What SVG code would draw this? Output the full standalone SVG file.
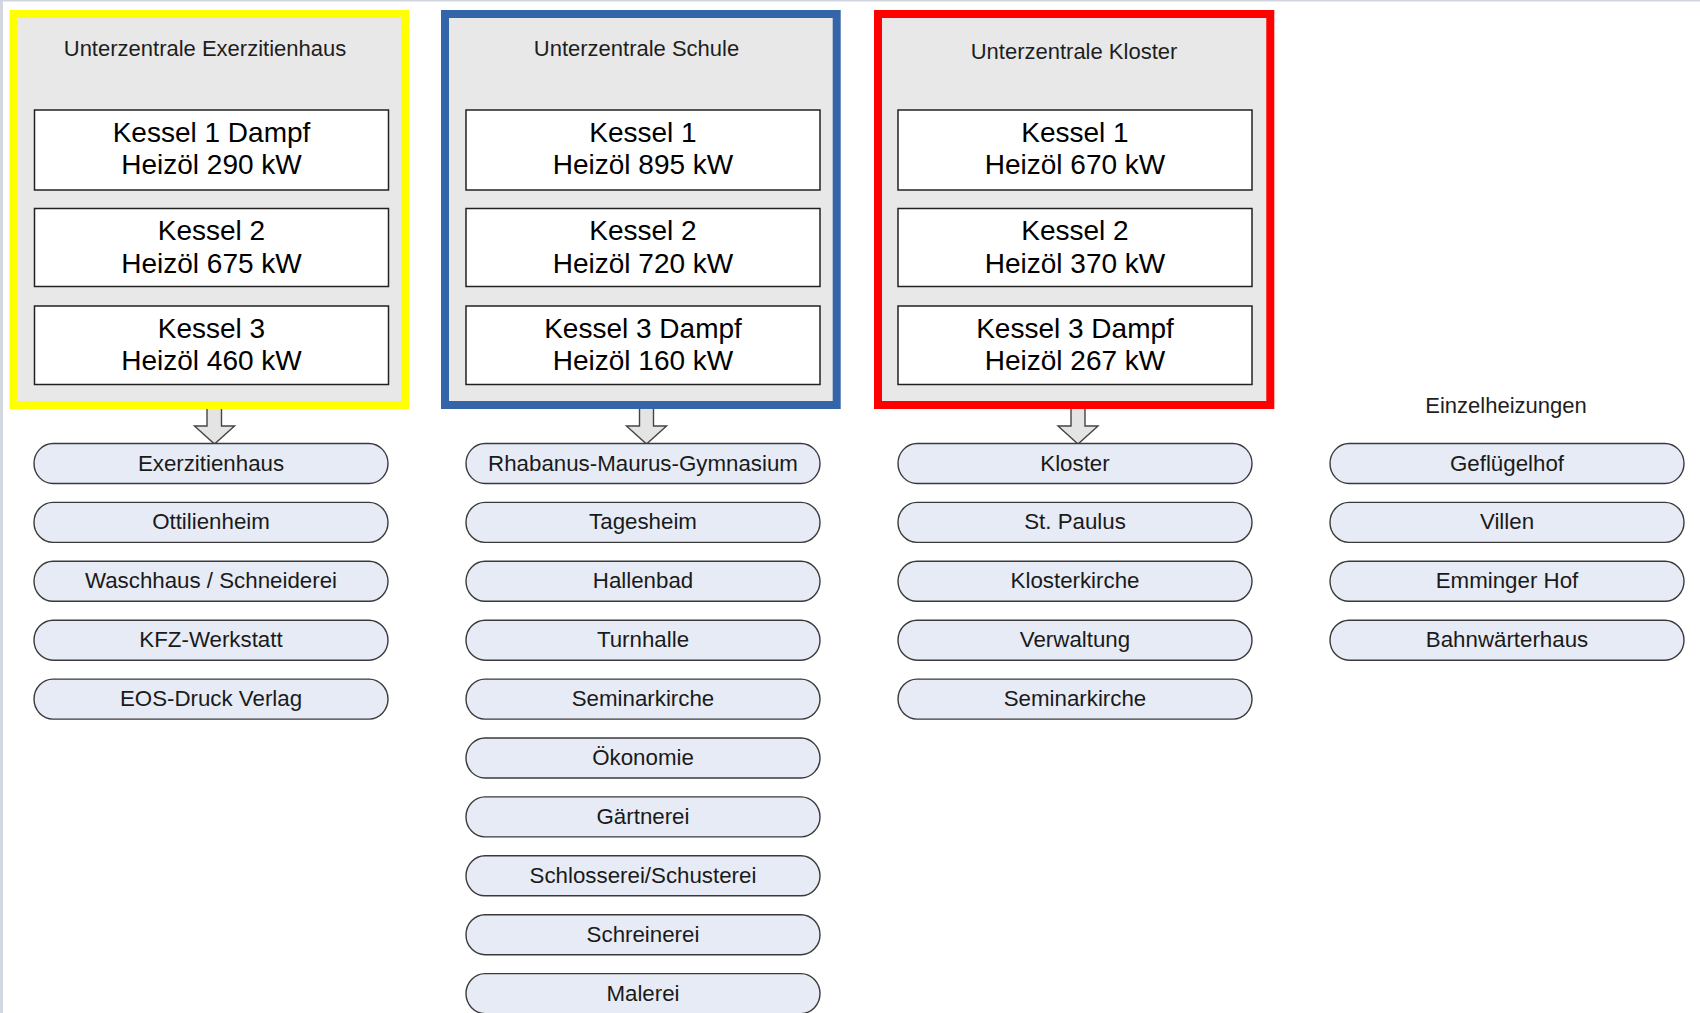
<svg xmlns="http://www.w3.org/2000/svg" width="1700" height="1013" viewBox="0 0 1700 1013">
<style>
.frame{fill:#e8e8e8;stroke-width:8}
.kessel{fill:#ffffff;stroke:#222222;stroke-width:1.5}
.pill{fill:#e6ebf5;stroke:#3a3a3a;stroke-width:1.4}
.title{font-family:"Liberation Sans",Arial,sans-serif;font-size:22px;fill:#1e1e1e;text-anchor:middle}
.ktext{font-family:"Liberation Sans",Arial,sans-serif;font-size:28px;fill:#000000;text-anchor:middle}
.ptext{font-family:"Liberation Sans",Arial,sans-serif;font-size:22.3px;fill:#1a1a1a;text-anchor:middle}
.arrow{fill:#e4e4e4;stroke:#444444;stroke-width:1.4;stroke-linejoin:miter}
</style>
<rect x="0" y="0" width="1700" height="1013" fill="#ffffff"/>
<rect x="0" y="0" width="3" height="1013" fill="#d3d7e0"/>
<rect x="0" y="0" width="1700" height="1.5" fill="#d0d4dc"/>

<g id="connectors">
<path class="arrow" d="M207,409 L207,426 L194.5,426 L214.5,444 L234.5,426 L221.5,426 L221.5,409"/>
<path class="arrow" d="M639.5,409 L639.5,426 L626.5,426 L646.5,444 L666.5,426 L653.5,426 L653.5,409"/>
<path class="arrow" d="M1071,409 L1071,426 L1058,426 L1078,444 L1098,426 L1085,426 L1085,409"/>
</g>

<g id="uz-exerzitienhaus">
<rect class="frame" x="13.5" y="14" width="391.5" height="391" stroke="#ffff00"/>
<text class="title" x="205" y="56">Unterzentrale Exerzitienhaus</text>
</g>
<g id="ex-kessel1"><rect class="kessel" x="34.5" y="110" width="354" height="80"/><text class="ktext" x="211.5" y="141.5">Kessel 1 Dampf</text><text class="ktext" x="211.5" y="174">Heizöl 290 kW</text></g>
<g id="ex-kessel2"><rect class="kessel" x="34.5" y="208.5" width="354" height="78"/><text class="ktext" x="211.5" y="240">Kessel 2</text><text class="ktext" x="211.5" y="272.5">Heizöl 675 kW</text></g>
<g id="ex-kessel3"><rect class="kessel" x="34.5" y="306" width="354" height="78.5"/><text class="ktext" x="211.5" y="337.5">Kessel 3</text><text class="ktext" x="211.5" y="370">Heizöl 460 kW</text></g>

<g id="uz-schule">
<rect class="frame" x="445" y="14" width="391.7" height="391" stroke="#3465a8"/>
<text class="title" x="636.5" y="56">Unterzentrale Schule</text>
</g>
<g id="sc-kessel1"><rect class="kessel" x="466" y="110" width="354" height="80"/><text class="ktext" x="643" y="141.5">Kessel 1</text><text class="ktext" x="643" y="174">Heizöl 895 kW</text></g>
<g id="sc-kessel2"><rect class="kessel" x="466" y="208.5" width="354" height="78"/><text class="ktext" x="643" y="240">Kessel 2</text><text class="ktext" x="643" y="272.5">Heizöl 720 kW</text></g>
<g id="sc-kessel3"><rect class="kessel" x="466" y="306" width="354" height="78.5"/><text class="ktext" x="643" y="337.5">Kessel 3 Dampf</text><text class="ktext" x="643" y="370">Heizöl 160 kW</text></g>

<g id="uz-kloster">
<rect class="frame" x="878" y="14" width="392.3" height="391" stroke="#ff0000"/>
<text class="title" x="1074" y="59">Unterzentrale Kloster</text>
</g>
<g id="kl-kessel1"><rect class="kessel" x="898" y="110" width="354" height="80"/><text class="ktext" x="1075" y="141.5">Kessel 1</text><text class="ktext" x="1075" y="174">Heizöl 670 kW</text></g>
<g id="kl-kessel2"><rect class="kessel" x="898" y="208.5" width="354" height="78"/><text class="ktext" x="1075" y="240">Kessel 2</text><text class="ktext" x="1075" y="272.5">Heizöl 370 kW</text></g>
<g id="kl-kessel3"><rect class="kessel" x="898" y="306" width="354" height="78.5"/><text class="ktext" x="1075" y="337.5">Kessel 3 Dampf</text><text class="ktext" x="1075" y="370">Heizöl 267 kW</text></g>

<g id="einzelheizungen-title"><text class="title" x="1506" y="413">Einzelheizungen</text></g>

<!-- Column 1 -->
<g id="exerzitienhaus"><rect class="pill" x="34" y="443.5" width="354" height="40" rx="19" ry="20"/><text class="ptext" x="211" y="470.5">Exerzitienhaus</text></g>
<g id="ottilienheim"><rect class="pill" x="34" y="502.4" width="354" height="40" rx="19" ry="20"/><text class="ptext" x="211" y="529.4">Ottilienheim</text></g>
<g id="waschhaus"><rect class="pill" x="34" y="561.3" width="354" height="40" rx="19" ry="20"/><text class="ptext" x="211" y="588.3">Waschhaus / Schneiderei</text></g>
<g id="kfz"><rect class="pill" x="34" y="620.2" width="354" height="40" rx="19" ry="20"/><text class="ptext" x="211" y="647.2">KFZ-Werkstatt</text></g>
<g id="eos"><rect class="pill" x="34" y="679.1" width="354" height="40" rx="19" ry="20"/><text class="ptext" x="211" y="706.1">EOS-Druck Verlag</text></g>

<!-- Column 2 -->
<g id="gymnasium"><rect class="pill" x="466" y="443.5" width="354" height="40" rx="19" ry="20"/><text class="ptext" x="643" y="470.5">Rhabanus-Maurus-Gymnasium</text></g>
<g id="tagesheim"><rect class="pill" x="466" y="502.4" width="354" height="40" rx="19" ry="20"/><text class="ptext" x="643" y="529.4">Tagesheim</text></g>
<g id="hallenbad"><rect class="pill" x="466" y="561.3" width="354" height="40" rx="19" ry="20"/><text class="ptext" x="643" y="588.3">Hallenbad</text></g>
<g id="turnhalle"><rect class="pill" x="466" y="620.2" width="354" height="40" rx="19" ry="20"/><text class="ptext" x="643" y="647.2">Turnhalle</text></g>
<g id="seminarkirche-s"><rect class="pill" x="466" y="679.1" width="354" height="40" rx="19" ry="20"/><text class="ptext" x="643" y="706.1">Seminarkirche</text></g>
<g id="oekonomie"><rect class="pill" x="466" y="738" width="354" height="40" rx="19" ry="20"/><text class="ptext" x="643" y="765">Ökonomie</text></g>
<g id="gaertnerei"><rect class="pill" x="466" y="796.9" width="354" height="40" rx="19" ry="20"/><text class="ptext" x="643" y="823.9">Gärtnerei</text></g>
<g id="schlosserei"><rect class="pill" x="466" y="855.8" width="354" height="40" rx="19" ry="20"/><text class="ptext" x="643" y="882.8">Schlosserei/Schusterei</text></g>
<g id="schreinerei"><rect class="pill" x="466" y="914.7" width="354" height="40" rx="19" ry="20"/><text class="ptext" x="643" y="941.7">Schreinerei</text></g>
<g id="malerei"><rect class="pill" x="466" y="973.6" width="354" height="40" rx="19" ry="20"/><text class="ptext" x="643" y="1000.6">Malerei</text></g>

<!-- Column 3 -->
<g id="kloster"><rect class="pill" x="898" y="443.5" width="354" height="40" rx="19" ry="20"/><text class="ptext" x="1075" y="470.5">Kloster</text></g>
<g id="st-paulus"><rect class="pill" x="898" y="502.4" width="354" height="40" rx="19" ry="20"/><text class="ptext" x="1075" y="529.4">St. Paulus</text></g>
<g id="klosterkirche"><rect class="pill" x="898" y="561.3" width="354" height="40" rx="19" ry="20"/><text class="ptext" x="1075" y="588.3">Klosterkirche</text></g>
<g id="verwaltung"><rect class="pill" x="898" y="620.2" width="354" height="40" rx="19" ry="20"/><text class="ptext" x="1075" y="647.2">Verwaltung</text></g>
<g id="seminarkirche-k"><rect class="pill" x="898" y="679.1" width="354" height="40" rx="19" ry="20"/><text class="ptext" x="1075" y="706.1">Seminarkirche</text></g>

<!-- Column 4 -->
<g id="gefluegelhof"><rect class="pill" x="1330" y="443.5" width="354" height="40" rx="19" ry="20"/><text class="ptext" x="1507" y="470.5">Geflügelhof</text></g>
<g id="villen"><rect class="pill" x="1330" y="502.4" width="354" height="40" rx="19" ry="20"/><text class="ptext" x="1507" y="529.4">Villen</text></g>
<g id="emminger-hof"><rect class="pill" x="1330" y="561.3" width="354" height="40" rx="19" ry="20"/><text class="ptext" x="1507" y="588.3">Emminger Hof</text></g>
<g id="bahnwaerterhaus"><rect class="pill" x="1330" y="620.2" width="354" height="40" rx="19" ry="20"/><text class="ptext" x="1507" y="647.2">Bahnwärterhaus</text></g>
</svg>
